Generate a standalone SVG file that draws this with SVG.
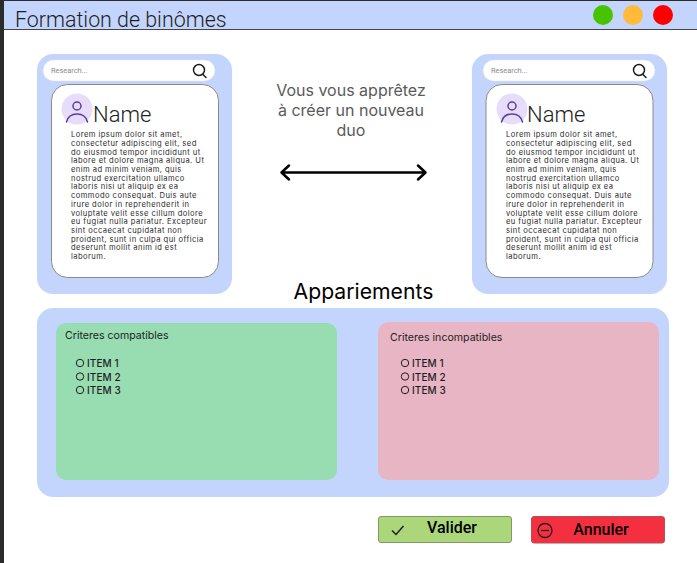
<svg xmlns="http://www.w3.org/2000/svg" width="697" height="563" viewBox="0 0 697 563">
<style>
.r{font-family:Roboto,sans-serif}
.i{font-family:Inter,"Liberation Sans",sans-serif}
.lorem{font-family:Inter,"Liberation Sans",sans-serif;font-size:7.6px;letter-spacing:.44px;fill:#2c2c2c}
.item{font-family:Inter,"Liberation Sans",sans-serif;font-size:10px;font-weight:500;letter-spacing:.1px;fill:#1e1e1e}
.crit{font-family:Inter,"Liberation Sans",sans-serif;font-size:10.6px;fill:#1e1e1e}
.panel{fill:#c4d5fd}
.radio{fill:none;stroke:#1e1e1e;stroke-width:1}
.search{fill:#fff;stroke:#e0e0e0;stroke-width:.5}
.card{fill:#fff;stroke:#8a8a8a;stroke-width:1}
.ph{font-family:Roboto,sans-serif;font-size:7.4px;fill:#8a8a8a}
.icon{fill:none;stroke:#1e1e1e;stroke-width:1.5;stroke-linecap:round}
.user{fill:none;stroke:#5b3f9e;stroke-width:1.5;stroke-linecap:round}
</style>
<rect width="697" height="563" fill="#fff"/>
<rect x="0" y="0" width="4" height="563" fill="#2c2c2c"/>
<rect x="0" y="0" width="697" height="1" fill="#2c2c2c"/>
<g id="header">
<rect x="4" y="1" width="693" height="28.500" fill="#c4d5fd"/>
<rect x="4" y="29" width="693" height="1" fill="#444"/>
<text x="15" y="26.500" class="r" font-size="21.400" font-weight="300" fill="#1e1e1e">Formation de binômes</text>
<circle cx="603" cy="15" r="10" fill="#47c400"/>
<circle cx="633" cy="15" r="10" fill="#ffb93b"/>
<circle cx="663" cy="15" r="10" fill="#ff0000"/>
</g>
<g id="profile-left">
<rect x="37" y="54" width="195" height="240" rx="16" class="panel"/>
<rect x="43" y="60" width="172" height="21" rx="10.500" class="search"/>
<text x="51" y="73" class="ph">Research...</text>
<circle cx="199" cy="70" r="5.500" class="icon"/><path d="M203 74.500L206 77.500" class="icon"/>
<rect x="51.500" y="84.500" width="167" height="193" rx="16" class="card"/>
<circle cx="77" cy="109" r="15.500" fill="#e8dcfb"/>
<circle cx="77" cy="106" r="4" class="user"/><path d="M66.500 122C68 116 73 114 77 114C81 114 86 116 87.500 122" class="user"/>
<text x="93" y="122" class="r" font-size="22" font-weight="300" fill="#1e1e1e">Name</text>
<text class="lorem"><tspan x="71" y="137">Lorem ipsum dolor sit amet,</tspan><tspan x="71" y="146">consectetur adipiscing elit, sed</tspan><tspan x="71" y="154.600">do eiusmod tempor incididunt ut</tspan><tspan x="71" y="163.300">labore et dolore magna aliqua. Ut</tspan><tspan x="71" y="172">enim ad minim veniam, quis</tspan><tspan x="71" y="180.700">nostrud exercitation ullamco</tspan><tspan x="71" y="189.400">laboris nisi ut aliquip ex ea</tspan><tspan x="71" y="198">commodo consequat. Duis aute</tspan><tspan x="71" y="206.800">irure dolor in reprehenderit in</tspan><tspan x="71" y="215.500">voluptate velit esse cillum dolore</tspan><tspan x="71" y="224.200">eu fugiat nulla pariatur. Excepteur</tspan><tspan x="71" y="232.900">sint occaecat cupidatat non</tspan><tspan x="71" y="241.600">proident, sunt in culpa qui officia</tspan><tspan x="71" y="250.200">deserunt mollit anim id est</tspan><tspan x="71" y="259">laborum.</tspan></text>
</g>
<g id="profile-right">
<rect x="472" y="54" width="195" height="240" rx="16" class="panel"/>
<rect x="483" y="60" width="172" height="21" rx="10.500" class="search"/>
<text x="491" y="73" class="ph">Research...</text>
<circle cx="639" cy="70" r="5.500" class="icon"/><path d="M643 74.500L646 77.500" class="icon"/>
<rect x="486" y="84.500" width="167" height="193" rx="16" class="card"/>
<circle cx="512" cy="109" r="15.500" fill="#e8dcfb"/>
<circle cx="512" cy="106" r="4" class="user"/><path d="M501.500 122C503 116 508 114 512 114C516 114 521 116 522.500 122" class="user"/>
<text x="527" y="122" class="r" font-size="22" font-weight="300" fill="#1e1e1e">Name</text>
<text class="lorem"><tspan x="506" y="137">Lorem ipsum dolor sit amet,</tspan><tspan x="506" y="146">consectetur adipiscing elit, sed</tspan><tspan x="506" y="154.600">do eiusmod tempor incididunt ut</tspan><tspan x="506" y="163.300">labore et dolore magna aliqua. Ut</tspan><tspan x="506" y="172">enim ad minim veniam, quis</tspan><tspan x="506" y="180.700">nostrud exercitation ullamco</tspan><tspan x="506" y="189.400">laboris nisi ut aliquip ex ea</tspan><tspan x="506" y="198">commodo consequat. Duis aute</tspan><tspan x="506" y="206.800">irure dolor in reprehenderit in</tspan><tspan x="506" y="215.500">voluptate velit esse cillum dolore</tspan><tspan x="506" y="224.200">eu fugiat nulla pariatur. Excepteur</tspan><tspan x="506" y="232.900">sint occaecat cupidatat non</tspan><tspan x="506" y="241.600">proident, sunt in culpa qui officia</tspan><tspan x="506" y="250.200">deserunt mollit anim id est</tspan><tspan x="506" y="259">laborum.</tspan></text>
</g>
<g id="message">
<text class="i" font-size="16" fill="#5a5a5a" text-anchor="middle"><tspan x="351" y="96">Vous vous apprêtez</tspan><tspan x="351" y="116">à créer un nouveau</tspan><tspan x="351" y="135.500">duo</tspan></text>
</g>
<g id="connectors">
<path d="M282 172.500H425M289 165.500L281.500 172.500L289 179.500M418 165.500L425.500 172.500L418 179.500" fill="none" stroke="#000" stroke-width="2.500" stroke-linecap="round" stroke-linejoin="round"/>
</g>
<g id="title">
<text x="363.500" y="299" class="i" font-size="21.200" fill="#000" text-anchor="middle">Appariements</text>
</g>
<g id="pairings">
<rect x="37" y="308" width="632" height="189" rx="16" class="panel"/>
</g>
<g id="compatibles">
<rect x="56" y="323" width="281" height="157" rx="10" fill="#98dcb2"/>
<text x="65" y="339" class="crit">Criteres compatibles</text>
<circle cx="80" cy="363" r="3.700" class="radio"/><text x="87" y="367" class="item">ITEM 1</text>
<circle cx="80" cy="376.500" r="3.700" class="radio"/><text x="87" y="380.500" class="item">ITEM 2</text>
<circle cx="80" cy="390" r="3.700" class="radio"/><text x="87" y="394" class="item">ITEM 3</text>
</g>
<g id="incompatibles">
<rect x="378" y="322" width="281" height="158" rx="10" fill="#e8b5c5"/>
<text x="390" y="341" class="crit">Criteres incompatibles</text>
<circle cx="405" cy="363" r="3.700" class="radio"/><text x="412" y="367" class="item">ITEM 1</text>
<circle cx="405" cy="376.500" r="3.700" class="radio"/><text x="412" y="380.500" class="item">ITEM 2</text>
<circle cx="405" cy="390" r="3.700" class="radio"/><text x="412" y="394" class="item">ITEM 3</text>
</g>
<g id="valider">
<rect x="378.500" y="516.500" width="133" height="26" rx="2.500" fill="#acd67a" stroke="#7f9a62"/>
<path d="M392 530.500L396 534.500L403.500 526" fill="none" stroke="#1e1e1e" stroke-width="1.500"/>
<text x="452" y="533" class="r" font-size="16" font-weight="500" fill="#000" text-anchor="middle">Valider</text>
</g>
<g id="annuler">
<rect x="531.500" y="516.500" width="133" height="26.500" rx="2.500" fill="#f42f40" stroke="#b0525c"/>
<circle cx="545" cy="530.500" r="7" fill="none" stroke="#1e1e1e" stroke-width="1.300"/>
<path d="M541 530.500H549" fill="none" stroke="#1e1e1e" stroke-width="1.300"/>
<text x="601" y="535" class="r" font-size="16" font-weight="500" fill="#000" text-anchor="middle">Annuler</text>
</g>
</svg>
